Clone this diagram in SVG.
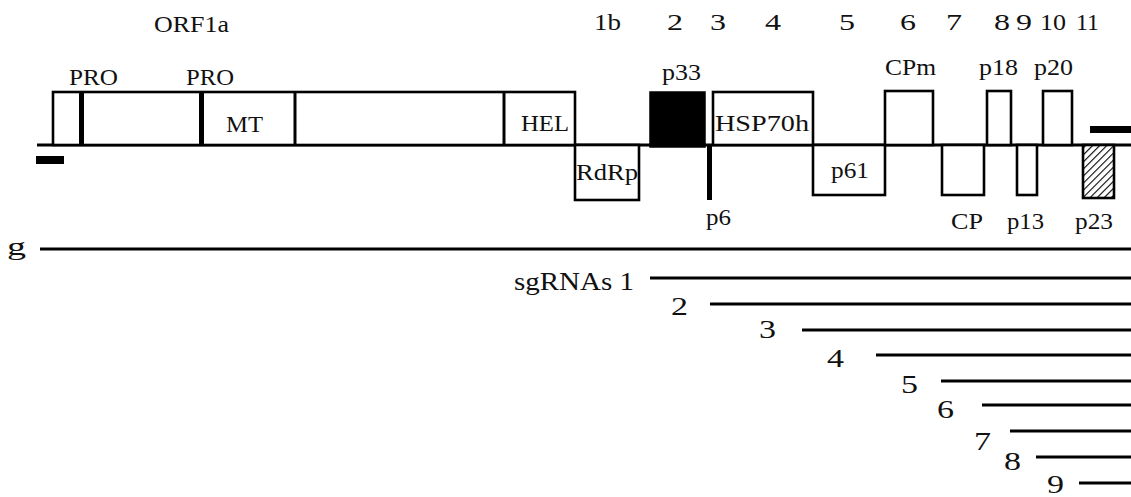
<svg xmlns="http://www.w3.org/2000/svg" width="1131" height="497" viewBox="0 0 1131 497">
<defs>
<style>
.t{font-family:"Liberation Serif","Times New Roman",serif;font-size:22.5px;fill:#111}
.tl{font-family:"Liberation Serif","Times New Roman",serif;font-size:25px;fill:#111}
.box{fill:#fff;stroke:#000;stroke-width:2.6}
.ln{stroke:#000;stroke-width:3;fill:none}
.blk{fill:#000}
</style>
<pattern id="hatch" patternUnits="userSpaceOnUse" width="5" height="5" patternTransform="rotate(45)">
<rect width="5" height="5" fill="#fff"/>
<line x1="0" y1="0" x2="0" y2="5" stroke="#000" stroke-width="2.2"/>
</pattern>
</defs>
<rect width="1131" height="497" fill="#fff"/>

<g id="orf-numbers">
<text class="t" x="154" y="32" textLength="75" lengthAdjust="spacingAndGlyphs">ORF1a</text>
<text class="t" x="594" y="30" textLength="27" lengthAdjust="spacingAndGlyphs">1b</text>
<text class="t" x="667" y="30" textLength="16" lengthAdjust="spacingAndGlyphs">2</text>
<text class="t" x="710" y="30" textLength="16" lengthAdjust="spacingAndGlyphs">3</text>
<text class="t" x="765" y="30" textLength="16" lengthAdjust="spacingAndGlyphs">4</text>
<text class="t" x="839" y="30" textLength="16" lengthAdjust="spacingAndGlyphs">5</text>
<text class="t" x="900" y="30" textLength="16" lengthAdjust="spacingAndGlyphs">6</text>
<text class="t" x="946" y="30" textLength="16" lengthAdjust="spacingAndGlyphs">7</text>
<text class="t" x="994" y="30" textLength="16" lengthAdjust="spacingAndGlyphs">8</text>
<text class="t" x="1016" y="30" textLength="16" lengthAdjust="spacingAndGlyphs">9</text>
<text class="t" x="1040" y="30" textLength="26" lengthAdjust="spacingAndGlyphs">10</text>
<text class="t" x="1076" y="30" textLength="23" lengthAdjust="spacingAndGlyphs">11</text>
</g>

<g id="genome-backbone">
<line class="ln" x1="37" y1="145" x2="1131" y2="145"/>
<rect class="blk" x="36" y="156" width="28" height="8"/>
<rect class="blk" x="1090" y="126" width="41" height="7"/>
</g>

<g id="orf1a">
<rect class="box" x="53" y="92" width="522" height="53"/>
<rect class="blk" x="79" y="91" width="5" height="55"/>
<rect class="blk" x="199" y="91" width="5" height="55"/>
<line class="ln" x1="295" y1="92" x2="295" y2="145" stroke-width="2.6"/>
<line class="ln" x1="504" y1="92" x2="504" y2="145" stroke-width="2.6"/>
<text class="t" x="69" y="85" textLength="49" lengthAdjust="spacingAndGlyphs">PRO</text>
<text class="t" x="186" y="85" textLength="48" lengthAdjust="spacingAndGlyphs">PRO</text>
<text class="t" x="226" y="132" textLength="37" lengthAdjust="spacingAndGlyphs">MT</text>
<text class="t" x="521" y="131" textLength="48" lengthAdjust="spacingAndGlyphs">HEL</text>
</g>

<g id="rdrp">
<rect class="box" x="575" y="145" width="64" height="55"/>
<text class="t" x="576" y="180" textLength="62" lengthAdjust="spacingAndGlyphs">RdRp</text>
</g>

<g id="p33">
<rect x="650" y="92" width="55" height="55" fill="#000" stroke="#000" stroke-width="1.5"/>
<text class="t" x="662" y="80" textLength="39" lengthAdjust="spacingAndGlyphs">p33</text>
</g>

<g id="p6">
<rect class="blk" x="707" y="145" width="5" height="55"/>
<text class="t" x="706" y="225" textLength="25" lengthAdjust="spacingAndGlyphs">p6</text>
</g>

<g id="hsp70h">
<rect class="box" x="713" y="92" width="100" height="53"/>
<text class="t" x="715" y="131" textLength="94" lengthAdjust="spacingAndGlyphs">HSP70h</text>
</g>

<g id="p61">
<rect class="box" x="813" y="145" width="72" height="50"/>
<text class="t" x="831" y="178" textLength="38" lengthAdjust="spacingAndGlyphs">p61</text>
</g>

<g id="cpm">
<rect class="box" x="885" y="91" width="48" height="54"/>
<text class="t" x="885" y="75" textLength="51" lengthAdjust="spacingAndGlyphs">CPm</text>
</g>

<g id="cp">
<rect class="box" x="942" y="145" width="42" height="50"/>
<text class="t" x="951" y="229" textLength="32" lengthAdjust="spacingAndGlyphs">CP</text>
</g>

<g id="p18">
<rect class="box" x="987" y="91" width="24" height="54"/>
<text class="t" x="979" y="75" textLength="39" lengthAdjust="spacingAndGlyphs">p18</text>
</g>

<g id="p13">
<rect class="box" x="1017" y="145" width="20" height="50"/>
<text class="t" x="1007" y="229" textLength="37" lengthAdjust="spacingAndGlyphs">p13</text>
</g>

<g id="p20">
<rect class="box" x="1043" y="91" width="29" height="54"/>
<text class="t" x="1034" y="75" textLength="39" lengthAdjust="spacingAndGlyphs">p20</text>
</g>

<g id="p23">
<rect x="1083" y="145" width="31" height="53" fill="url(#hatch)" stroke="#000" stroke-width="2.6"/>
<text class="t" x="1075" y="229" textLength="38" lengthAdjust="spacingAndGlyphs">p23</text>
</g>

<g id="rna-labels">
<text class="tl" x="7" y="255" textLength="19" lengthAdjust="spacingAndGlyphs">g</text>
<text class="tl" x="514" y="290" textLength="120" lengthAdjust="spacingAndGlyphs">sgRNAs 1</text>
<text class="tl" x="671" y="315" textLength="17" lengthAdjust="spacingAndGlyphs">2</text>
<text class="tl" x="759" y="338" textLength="17" lengthAdjust="spacingAndGlyphs">3</text>
<text class="tl" x="827" y="367" textLength="17" lengthAdjust="spacingAndGlyphs">4</text>
<text class="tl" x="901" y="393" textLength="17" lengthAdjust="spacingAndGlyphs">5</text>
<text class="tl" x="937" y="418" textLength="17" lengthAdjust="spacingAndGlyphs">6</text>
<text class="tl" x="974" y="450" textLength="17" lengthAdjust="spacingAndGlyphs">7</text>
<text class="tl" x="1004" y="470" textLength="17" lengthAdjust="spacingAndGlyphs">8</text>
<text class="tl" x="1047" y="493" textLength="17" lengthAdjust="spacingAndGlyphs">9</text>
</g>

<g id="connectors">
<line class="ln" x1="40" y1="249" x2="1131" y2="249"/>
<line class="ln" x1="650" y1="278" x2="1131" y2="278"/>
<line class="ln" x1="710" y1="304" x2="1131" y2="304"/>
<line class="ln" x1="802" y1="330" x2="1131" y2="330"/>
<line class="ln" x1="876" y1="355" x2="1131" y2="355"/>
<line class="ln" x1="941" y1="381" x2="1131" y2="381"/>
<line class="ln" x1="982" y1="405" x2="1131" y2="405"/>
<line class="ln" x1="1010" y1="431" x2="1131" y2="431"/>
<line class="ln" x1="1036" y1="457" x2="1131" y2="457"/>
<line class="ln" x1="1079" y1="483" x2="1131" y2="483"/>
</g>
</svg>
